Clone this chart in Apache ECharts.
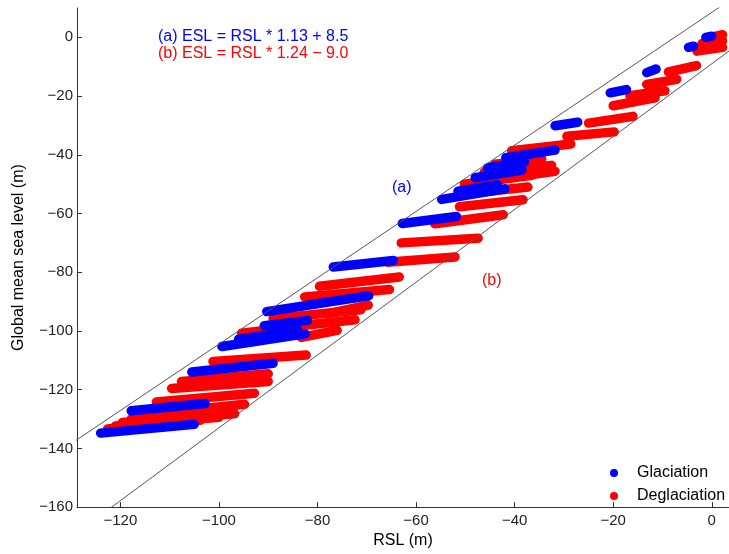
<!DOCTYPE html>
<html>
<head>
<meta charset="utf-8">
<script src="https://cdn.jsdelivr.net/npm/echarts@6/dist/echarts.min.js"></script>
<style>
  html, body { margin: 0; padding: 0; background: #fff; }
  #chart { width: 729px; height: 554px; }
</style>
</head>
<body>
<div id="chart"></div>
<script>
// streaks of points, each [rslStart, eslStart, rslEnd, eslEnd]
var glaciation = [
  [-1.2, 0.0, 0.0, 0.4],
  [-4.7, -3.4, -3.7, -3.0],
  [-13.2, -12.0, -11.3, -10.8],
  [-20.6, -18.9, -17.3, -17.8],
  [-31.8, -30.1, -27.2, -28.9],
  [-41.8, -41.0, -31.8, -38.4],
  [-48.0, -47.8, -38.5, -45.2],
  [-45.5, -44.4, -38.0, -42.4],
  [-54.8, -55.2, -42.0, -51.6],
  [-51.5, -52.4, -43.5, -50.2],
  [-62.8, -63.4, -51.8, -61.0],
  [-76.8, -78.2, -64.6, -76.0],
  [-90.3, -93.4, -69.6, -88.0],
  [-90.8, -98.2, -82.0, -96.4],
  [-99.4, -105.3, -82.5, -101.0],
  [-96.0, -102.8, -84.0, -99.8],
  [-105.5, -114.0, -89.0, -111.0],
  [-117.8, -127.2, -102.8, -124.7],
  [-124.0, -134.8, -105.0, -131.8]
];
var deglaciation = [
  [-3.0, -4.7, 2.2, -3.4],
  [-2.0, -2.2, 2.2, -1.2],
  [-0.4, -0.1, 2.2, 0.9],
  [-8.8, -11.8, -3.1, -9.6],
  [-13.2, -16.0, -7.1, -14.3],
  [-16.6, -19.9, -9.5, -18.2],
  [-20.0, -23.3, -11.5, -20.6],
  [-25.0, -29.2, -16.0, -26.9],
  [-29.4, -33.7, -19.8, -32.2],
  [-40.6, -38.6, -28.6, -36.3],
  [-46.2, -46.0, -32.5, -43.6],
  [-44.0, -43.2, -34.5, -41.4],
  [-50.2, -50.0, -31.8, -45.6],
  [-44.5, -48.8, -36.5, -47.0],
  [-46.6, -52.7, -37.3, -51.0],
  [-51.2, -57.7, -38.3, -55.3],
  [-56.2, -63.5, -42.3, -60.4],
  [-63.0, -70.0, -47.4, -68.4],
  [-65.8, -76.6, -52.1, -74.8],
  [-79.6, -84.8, -63.4, -81.6],
  [-82.6, -88.4, -65.4, -85.9],
  [-89.0, -95.8, -71.2, -92.8],
  [-77.8, -94.1, -69.7, -91.2],
  [-85.4, -98.6, -72.4, -96.2],
  [-95.4, -100.8, -83.4, -98.4],
  [-83.3, -102.2, -76.0, -99.8],
  [-101.2, -110.4, -82.3, -108.2],
  [-107.6, -117.2, -90.0, -114.6],
  [-109.6, -119.6, -90.0, -117.2],
  [-112.7, -124.2, -92.8, -121.2],
  [-115.6, -128.6, -94.8, -125.0],
  [-117.8, -130.0, -97.6, -126.6],
  [-119.6, -131.2, -96.8, -128.2],
  [-121.0, -132.4, -100.0, -129.4],
  [-122.6, -133.4, -103.8, -130.4]
];
// fitted relations shown in the annotation
var fitSlopes = [1.13, 1.24];
var fitIntercepts = [8.5, -9.0];
var fitRange = [-140, 10];
var xTicks = [-120, -100, -80, -60, -40, -20, 0];
var yTicks = [-160, -140, -120, -100, -80, -60, -40, -20, 0];

var BLUE = '#0000ff', RED = '#ff0000';
var FONT = '"Liberation Sans", Arial, sans-serif';

function streakSeries(name, color, segs, z) {
  return segs.map(function (s) {
    return {
      name: name,
      type: 'line',
      data: [[s[0], s[1]], [s[2], s[3]]],
      showSymbol: false,
      silent: true,
      z: z,
      lineStyle: { color: color, width: 9.5, cap: 'round' },
      itemStyle: { color: color }
    };
  });
}

function fitSeries(i) {
  var d = fitRange.map(function (x) { return [x, x * fitSlopes[i] + fitIntercepts[i]]; });
  return {
    name: 'fit' + i,
    type: 'line',
    data: d,
    showSymbol: false,
    silent: true,
    z: 5,
    lineStyle: { color: '#555', width: 1 }
  };
}

var series = []
  .concat(streakSeries('Deglaciation', RED, deglaciation, 2))
  .concat(streakSeries('Glaciation', BLUE, glaciation, 3))
  .concat([fitSeries(0), fitSeries(1)]);

var chart = echarts.init(document.getElementById('chart'));
chart.setOption({
  animation: false,
  backgroundColor: '#fff',
  textStyle: { fontFamily: FONT },
  grid: { left: 77, right: 0, top: 8, bottom: 45, containLabel: false },
  legend: {
    data: ['Glaciation', 'Deglaciation'],
    orient: 'vertical',
    left: 605,
    top: 460,
    icon: 'circle',
    itemWidth: 8,
    itemHeight: 8,
    itemGap: 7,
    selectedMode: false,
    textStyle: { fontSize: 16, color: '#000', fontFamily: FONT, padding: [0, 0, 0, 14], lineHeight: 16 }
  },
  xAxis: {
    type: 'value',
    min: -128.8,
    max: 3.5,
    name: 'RSL (m)',
    nameLocation: 'middle',
    nameGap: 22,
    nameTextStyle: { fontSize: 16, color: '#000', fontFamily: FONT },
    splitLine: { show: false },
    axisLine: { onZero: false, lineStyle: { color: '#333' } },
    axisTick: { inside: true, length: 5, customValues: xTicks, lineStyle: { color: '#333' } },
    axisLabel: {
      customValues: xTicks,
      fontSize: 15, color: '#222', margin: 6, fontFamily: FONT,
      formatter: function (v) { return String(v).replace('-', '\u2212'); }
    }
  },
  yAxis: {
    type: 'value',
    min: -160,
    max: 10,
    name: 'Global mean sea level (m)',
    nameLocation: 'middle',
    nameGap: 50,
    nameTextStyle: { fontSize: 16, color: '#000', fontFamily: FONT },
    splitLine: { show: false },
    axisLine: { onZero: false, lineStyle: { color: '#333' } },
    axisTick: { inside: true, length: 5, customValues: yTicks, lineStyle: { color: '#333' } },
    axisLabel: {
      customValues: yTicks,
      fontSize: 15, color: '#222', margin: 4, fontFamily: FONT,
      formatter: function (v) { return String(v).replace('-', '\u2212'); }
    }
  },
  graphic: [
    { type: 'text', left: 158, top: 29, style: { text: '(a) ESL = RSL * 1.13 + 8.5', fill: BLUE, font: '16px ' + FONT } },
    { type: 'text', left: 158, top: 46, style: { text: '(b) ESL = RSL * 1.24 \u2212 9.0', fill: RED, font: '16px ' + FONT } },
    { type: 'text', left: 392, top: 180, style: { text: '(a)', fill: BLUE, font: '16px ' + FONT } },
    { type: 'text', left: 482, top: 273, style: { text: '(b)', fill: RED, font: '16px ' + FONT } }
  ],
  series: series
});
</script>
</body>
</html>
